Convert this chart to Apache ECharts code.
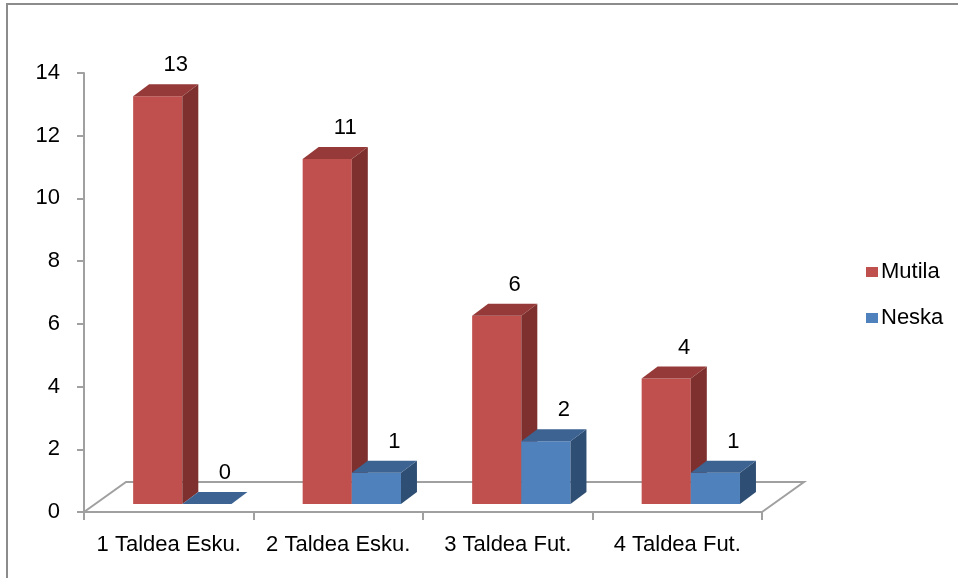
<!DOCTYPE html>
<html>
<head>
<meta charset="utf-8">
<script src="https://cdn.jsdelivr.net/npm/echarts@6/dist/echarts.min.js"></script>
<style>
  html, body { margin: 0; padding: 0; background: #fff; }
  #chart { width: 958px; height: 578px; }
</style>
</head>
<body>
<div id="chart"></div>
<script>
// data
const categories = ['1 Taldea Esku.', '2 Taldea Esku.', '3 Taldea Fut.', '4 Taldea Fut.'];
const mutila = [13, 11, 6, 4];
const neska = [0, 1, 2, 1];
const seriesNames = ['Mutila', 'Neska'];

// 3d look
const faces = [
  { front: '#C0504D', side: '#7D302E', top: '#953A38' },
  { front: '#4F81BD', side: '#2F4E74', top: '#3C6392' }
];
const DX = 16, DY = 12, LIFT = 8;
const FONT = '"Liberation Sans", Arial, sans-serif';
const FS = 22;

const grid = { left: 84, right: 196, top: 73, bottom: 66 };

function barItem(params, api) {
  const s = params.seriesIndex;
  const idx = api.value(0);
  const val = api.value(1);
  const base = api.coord([idx, 0]);
  const top = api.coord([idx, val]);
  const band = api.size([1, 0])[0];
  const bw = band * 0.29;
  const x0 = base[0] - band * 0.21 + s * bw;
  const yb = base[1] - LIFT;
  const yt = top[1] - LIFT;
  const c = faces[s];
  return {
    type: 'group',
    children: [
      {
        type: 'rect',
        shape: { x: x0, y: yt, width: bw, height: yb - yt },
        style: { fill: c.front }
      },
      {
        type: 'polygon',
        shape: { points: [[x0 + bw, yt], [x0 + bw + DX, yt - DY], [x0 + bw + DX, yb - DY], [x0 + bw, yb]] },
        style: { fill: c.side }
      },
      {
        type: 'polygon',
        shape: { points: [[x0, yt], [x0 + DX, yt - DY], [x0 + bw + DX, yt - DY], [x0 + bw, yt]] },
        style: { fill: c.top }
      },
      {
        type: 'text',
        style: {
          x: x0 + bw / 2 + DX + 2,
          y: yt - DY - 19,
          text: String(val),
          align: 'center',
          verticalAlign: 'middle',
          fill: '#000',
          font: FS + 'px ' + FONT
        }
      }
    ]
  };
}

const chart = echarts.init(document.getElementById('chart'));

// floor outline (front edge sits on the x axis)
const W = 958, H = 578;
const fx0 = grid.left, fx1 = W - grid.right, fy = H - grid.bottom;
const floorDX = 42, floorDY = 30;

const option = {
  backgroundColor: '#ffffff',
  animation: false,
  grid: grid,
  legend: {
    orient: 'vertical',
    left: 861,
    top: 256,
    icon: 'rect',
    itemWidth: 12,
    itemHeight: 10,
    itemGap: 24,
    textStyle: { fontSize: FS, color: '#000', fontFamily: FONT, padding: [0, 0, 0, -2] },
    data: seriesNames
  },
  xAxis: {
    type: 'category',
    data: categories,
    axisLine: { lineStyle: { color: '#a0a0a0', width: 2 } },
    axisTick: { show: true, length: 8, lineStyle: { color: '#a0a0a0', width: 2 } },
    axisLabel: { interval: 0, fontSize: FS, color: '#000', fontFamily: FONT, margin: 22 },
    splitLine: { show: false }
  },
  yAxis: {
    type: 'value',
    min: 0,
    max: 14,
    interval: 2,
    axisLine: { show: true, lineStyle: { color: '#a0a0a0', width: 2 } },
    axisTick: { show: true, length: 7, lineStyle: { color: '#a0a0a0', width: 2 } },
    axisLabel: { fontSize: FS, color: '#000', fontFamily: FONT, margin: 24 },
    splitLine: { show: false }
  },
  graphic: [
    {
      type: 'rect',
      shape: { x: 7, y: 4, width: 1000, height: 700 },
      style: { fill: 'none', stroke: '#8c8c8c', lineWidth: 2 },
      z: 0
    },
    {
      type: 'polyline',
      shape: { points: [[fx0, fy], [fx0 + floorDX, fy - floorDY], [fx1 + floorDX, fy - floorDY], [fx1, fy]] },
      style: { fill: 'none', stroke: '#a0a0a0', lineWidth: 2 },
      z: 1
    }
  ],
  series: [
    {
      name: seriesNames[0],
      type: 'custom',
      renderItem: barItem,
      itemStyle: { color: faces[0].front },
      encode: { x: 0, y: 1 },
      data: mutila.map((v, i) => [i, v]),
      z: 5
    },
    {
      name: seriesNames[1],
      type: 'custom',
      renderItem: barItem,
      itemStyle: { color: faces[1].front },
      encode: { x: 0, y: 1 },
      data: neska.map((v, i) => [i, v]),
      z: 6
    }
  ]
};

chart.setOption(option);
</script>
</body>
</html>
